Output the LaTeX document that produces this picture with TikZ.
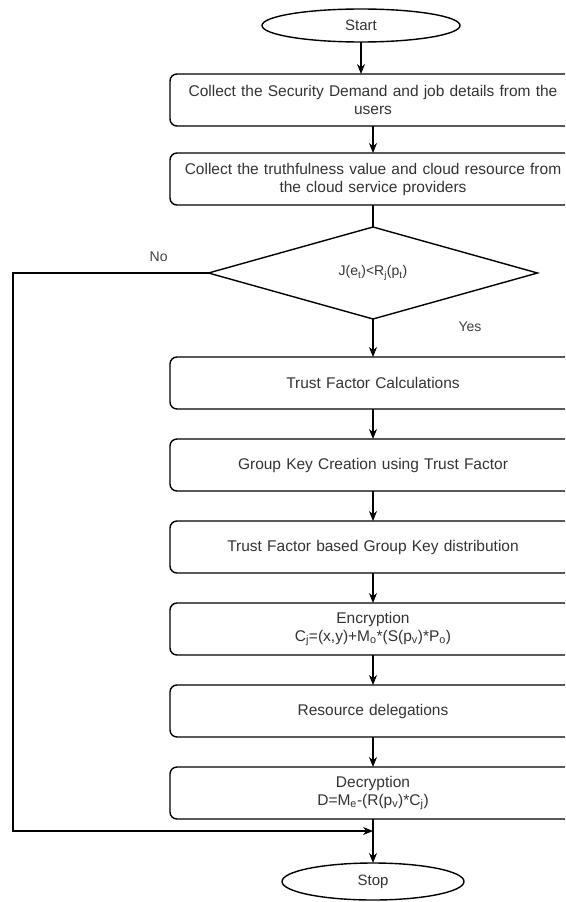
\documentclass[tikz,border=0pt]{standalone}
\usepackage{fontspec}
\setmainfont{Liberation Sans}
\usetikzlibrary{arrows.meta,positioning,shapes.geometric}

\begin{document}
\begin{tikzpicture}[
    x=1pt,y=1pt,
    node distance=30pt,
    box/.style={draw,rounded corners=7pt,align=center,minimum height=52pt,
                text width=390pt,inner xsep=8pt,outer sep=0pt,line width=1.4pt,
                text=black!80,font=\fontsize{15.5}{18}\selectfont},
    term/.style={draw,ellipse,outer sep=0pt,line width=1.4pt,text=black!80,
                font=\fontsize{15}{18}\selectfont},
    cond/.style={draw,diamond,aspect=3.5,minimum width=329pt,minimum height=92pt,
                inner sep=0pt,outer sep=0pt,line width=1.4pt,text=black!80,
                font=\fontsize{14}{17}\selectfont},
    lbl/.style={font=\fontsize{14}{17}\selectfont,text=black!75},
    arr/.style={-{Stealth[length=10pt,width=8pt]},line width=1.1pt}
  ]
  \clip (0,0) rectangle (565,-902);
  \node[term,minimum width=198pt,minimum height=33pt] (start) at (361,-25.5) {Start};
  \node[box] (dem) at (373,-100) {Collect the Security Demand and job details from the\\
        users};
  \node[box,below=27pt of dem] (tru) {Collect the truthfulness value and cloud resource from\\
        the cloud service providers};
  \node[cond,below=22pt of tru] (chk) {J(e\textsubscript{t})<R\textsubscript{j}(p\textsubscript{t})};
  \node[box,below=38pt of chk] (tfc) {Trust Factor Calculations};
  \node[box,below=of tfc] (gkc) {Group Key Creation using Trust Factor};
  \node[box,below=of gkc] (gkd) {Trust Factor based Group Key distribution};
  \node[box,below=of gkd] (enc) {Encryption\\
        C\textsubscript{j}=(x,y)+M\textsubscript{o}*(S(p\textsubscript{v})*P\textsubscript{o})};
  \node[box,below=of enc] (res) {Resource delegations};
  \node[box,below=of res] (dec) {Decryption\\
        D=M\textsubscript{e}-(R(p\textsubscript{v})*C\textsubscript{j})};
  \node[term,minimum width=182pt,minimum height=37pt,below=44pt of dec] (stop) {Stop};

  \coordinate (noturn) at (13,-273);
  \coordinate (join) at (373,-831);

  \draw[arr] (start.south) -- (start.south |- dem.north);
  \draw[arr] (dem) -- (tru);
  \draw[line width=1.1pt] (tru) -- (chk);
  \draw[arr] (chk) -- node[lbl,pos=0.2,xshift=97pt]{Yes} (tfc);
  \draw[arr] (tfc) -- (gkc);
  \draw[arr] (gkc) -- (gkd);
  \draw[arr] (gkd) -- (enc);
  \draw[arr] (enc) -- (res);
  \draw[arr] (res) -- (dec);
  \draw[arr] (dec) -- (stop);
  \draw[arr] (chk.west) -- node[lbl,pos=0.255,yshift=16pt]{No} (noturn) |- (join);
\end{tikzpicture}
\end{document}
